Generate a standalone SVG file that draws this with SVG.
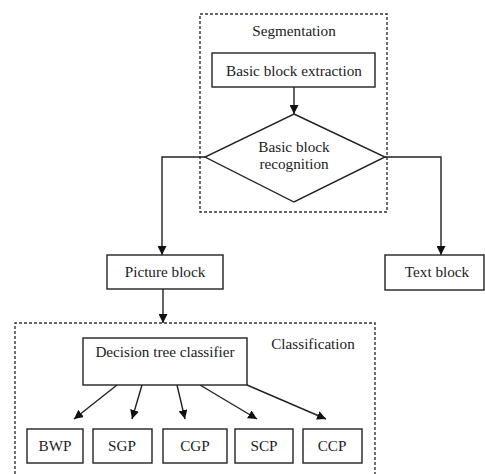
<svg xmlns="http://www.w3.org/2000/svg" width="485" height="474" viewBox="0 0 485 474">
<style>
.box{fill:#fff;stroke:#222;stroke-width:1.4}
.dash{fill:none;stroke:#333;stroke-width:1.4;stroke-dasharray:3 2}
.ln{fill:none;stroke:#222;stroke-width:1.4}
text{font-family:'Liberation Serif','DejaVu Serif',serif;font-size:15.2px;fill:#222;text-anchor:middle}
</style>
<defs>
<marker id="ah" viewBox="0 0 10 10" refX="10" refY="5" markerWidth="9" markerHeight="9" markerUnits="userSpaceOnUse" orient="auto">
<path d="M0,0 L10,5 L0,10 z" fill="#111"/>
</marker>
</defs>
<rect width="485" height="474" fill="#fff"/>
<g id="segmentation">
<rect class="dash" x="200" y="14" width="187" height="198"/>
<text x="294" y="36">Segmentation</text>
</g>
<g id="classification">
<path class="dash" d="M15,474 L15,323 L375,323 L375,474"/>
<text x="313" y="349">Classification</text>
</g>
<g id="connectors">
<line class="ln" x1="294" y1="87" x2="294" y2="114" marker-end="url(#ah)"/>
<polyline class="ln" points="205,157 162,157 162,255" marker-end="url(#ah)"/>
<polyline class="ln" points="385,157 441,157 441,255" marker-end="url(#ah)"/>
<line class="ln" x1="163" y1="289" x2="163" y2="323" marker-end="url(#ah)"/>
<line class="ln" x1="117" y1="385" x2="74" y2="419" marker-end="url(#ah)"/>
<line class="ln" x1="142" y1="385" x2="132" y2="419" marker-end="url(#ah)"/>
<line class="ln" x1="177" y1="385" x2="185" y2="419" marker-end="url(#ah)"/>
<line class="ln" x1="200" y1="385" x2="257" y2="419" marker-end="url(#ah)"/>
<line class="ln" x1="247" y1="385" x2="326" y2="419" marker-end="url(#ah)"/>
</g>
<g id="extraction">
<rect class="box" x="212" y="53" width="163" height="34"/>
<text x="294" y="76">Basic block extraction</text>
</g>
<g id="recognition">
<polygon class="box" points="294,114 385,157 294,202 205,157"/>
<text x="294" y="152">Basic block</text>
<text x="294" y="169">recognition</text>
</g>
<g id="picture">
<rect class="box" x="107" y="255" width="116" height="34"/>
<text x="165" y="277">Picture block</text>
</g>
<g id="textblock">
<rect class="box" x="385" y="255" width="99" height="35"/>
<text x="437" y="277">Text block</text>
</g>
<g id="classifier">
<rect class="box" x="83" y="338" width="164" height="47"/>
<text x="165" y="357">Decision tree classifier</text>
</g>
<g id="bwp"><rect class="box" x="27" y="429" width="56" height="34"/><text x="55" y="451">BWP</text></g>
<g id="sgp"><rect class="box" x="93" y="429" width="59" height="34"/><text x="122" y="451">SGP</text></g>
<g id="cgp"><rect class="box" x="163" y="429" width="64" height="34"/><text x="195" y="451">CGP</text></g>
<g id="scp"><rect class="box" x="235" y="429" width="58" height="34"/><text x="264" y="451">SCP</text></g>
<g id="ccp"><rect class="box" x="303" y="429" width="59" height="34"/><text x="332" y="451">CCP</text></g>
</svg>
